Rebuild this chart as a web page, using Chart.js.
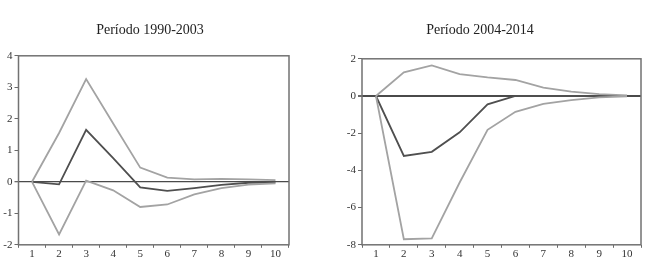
<!DOCTYPE html>
<html>
<head>
<meta charset="utf-8">
<script src="https://cdn.jsdelivr.net/npm/chart.js@4/dist/chart.umd.min.js"></script>
<style>
	body { margin: 0; background: #fff; }
	#wrap { position: relative; width: 662px; height: 266px; }
	#c1 { position: absolute; left: 0; top: 0; }
	#c2 { position: absolute; left: 318px; top: 0; }
</style>
</head>
<body>
<div id="wrap">
	<canvas id="c1" width="300" height="266"></canvas>
	<canvas id="c2" width="330" height="266"></canvas>
</div>
<script>
// horizons
var periodos = ["1", "2", "3", "4", "5", "6", "7", "8", "9", "10"];

// Período 1990-2003
var titulo1 = "Período 1990-2003";
var resp1 = [0, -0.08, 1.65, 0.75, -0.18, -0.29, -0.2, -0.1, -0.03, -0.02];
var sup1 = [0, 1.55, 3.26, 1.85, 0.45, 0.13, 0.08, 0.09, 0.08, 0.05];
var inf1 = [0, -1.67, 0.04, -0.27, -0.8, -0.72, -0.4, -0.2, -0.09, -0.05];
var ticks1 = [4, 3, 2, 1, 0, -1, -2];

// Período 2004-2014
var titulo2 = "Período 2004-2014";
var resp2 = [0, -3.22, -3.0, -1.95, -0.45, 0, 0, 0, 0, 0];
var sup2 = [0, 1.27, 1.64, 1.18, 1.0, 0.86, 0.45, 0.24, 0.1, 0.03];
var inf2 = [0, -7.7, -7.65, -4.65, -1.82, -0.85, -0.42, -0.22, -0.07, -0.02];
var ticks2 = [2, 0, -2, -4, -6, -8];

var fonte = "'Liberation Serif', 'DejaVu Serif', serif";

// frame around the plot area
var boxPlugin = {
	id: "boxPlugin",
	afterDraw: function(chart) {
		var a = chart.chartArea;
		var ctx = chart.ctx;
		ctx.save();
		ctx.strokeStyle = "#727272";
		ctx.lineWidth = 1.5;
		ctx.strokeRect(a.left, a.top, a.right - a.left, a.bottom - a.top);
		ctx.restore();
	}
};

function grafico(id, titulo, resp, sup, inf, yTicks, padL, padR, eixoW, folgaDir, titBottom, zeroW) {
	var ctx = document.getElementById(id);
	return new Chart(ctx, {
		type: "line",
		data: {
			labels: periodos,
			datasets: [
				{ data: sup, borderColor: "#a3a3a3", borderWidth: 1.8, pointRadius: 0, fill: false, tension: 0 },
				{ data: inf, borderColor: "#a3a3a3", borderWidth: 1.8, pointRadius: 0, fill: false, tension: 0 },
				{ data: resp, borderColor: "#4f4f4f", borderWidth: 1.8, pointRadius: 0, fill: false, tension: 0 }
			]
		},
		options: {
			responsive: false,
			animation: false,
			layout: { padding: { left: padL, right: padR, top: 0, bottom: 5 } },
			plugins: {
				legend: { display: false },
				tooltip: { enabled: false },
				title: {
					display: true,
					text: titulo,
					color: "#222",
					font: { family: fonte, size: 14, weight: "normal" },
					padding: { top: 22, bottom: titBottom }
				}
			},
			scales: {
				x: {
					offset: true,
					border: { display: false },
					grid: { offset: true, drawOnChartArea: false, tickLength: 3, tickColor: "#6a6a6a", lineWidth: 1 },
					ticks: { color: "#333", font: { family: fonte, size: 11 }, padding: 0, maxRotation: 0 }
				},
				y: {
					min: yTicks[yTicks.length - 1],
					max: yTicks[0],
					afterBuildTicks: function(scale) {
						scale.ticks = yTicks.map(function(v) { return { value: v }; });
					},
					afterFit: function(scale) { scale.width = eixoW; },
					border: { display: false },
					grid: {
						color: function(c) { return c.tick && c.tick.value === 0 ? "#4a4a4a" : "rgba(0,0,0,0)"; },
						lineWidth: function(c) { return c.tick && c.tick.value === 0 ? zeroW : 1; },
						tickColor: "#6a6a6a",
						tickLength: 4
					},
					ticks: { color: "#333", font: { family: fonte, size: 11 }, padding: 2 }
				},
				// empty space on the right so the title sits where it does in the original
				folga: {
					position: "right",
					display: folgaDir > 0,
					afterFit: function(scale) { scale.width = folgaDir; },
					border: { display: false },
					grid: { display: false },
					ticks: { display: false }
				}
			}
		},
		plugins: [boxPlugin]
	});
}

grafico("c1", titulo1, resp1, sup1, inf1, ticks1, 0, 0, 18.5, 11, 17, 1.3);
grafico("c2", titulo2, resp2, sup2, inf2, ticks2, 1, 7, 43, 0, 20, 2);
</script>
</body>
</html>
